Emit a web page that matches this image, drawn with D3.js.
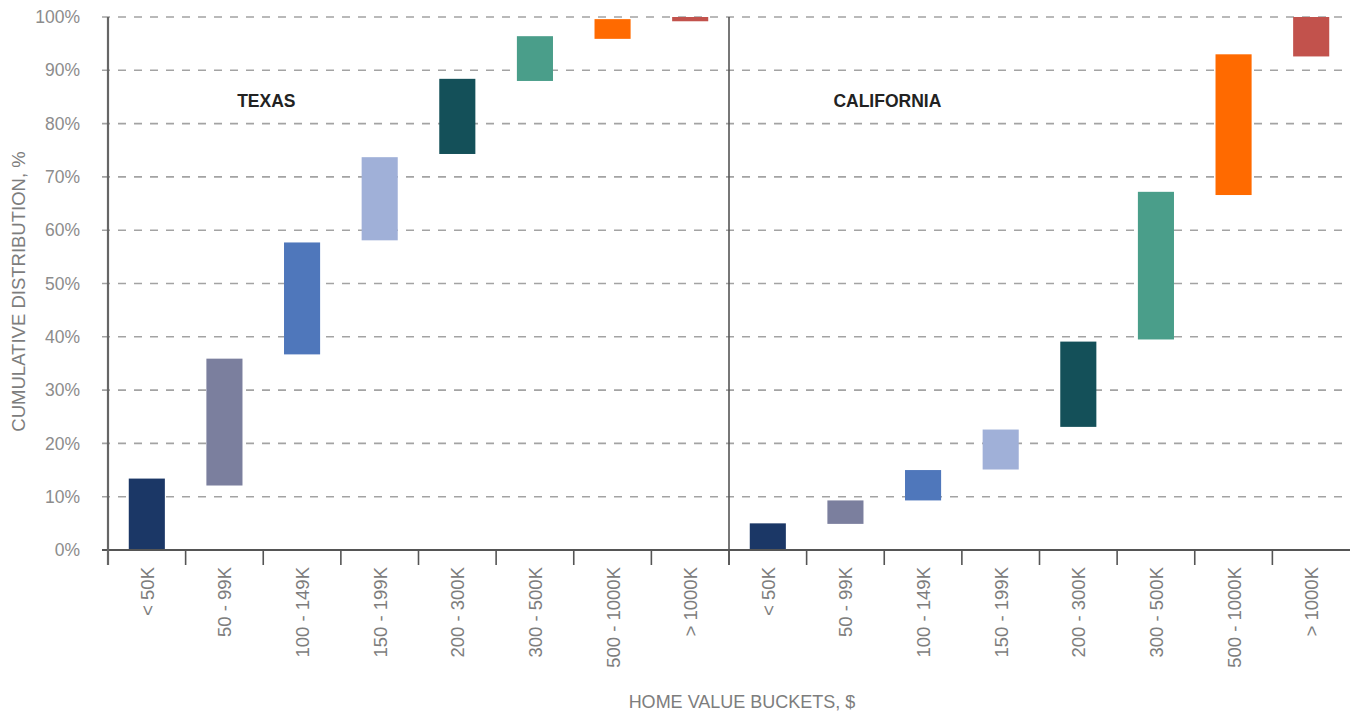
<!DOCTYPE html>
<html>
<head>
<meta charset="utf-8">
<script src="https://cdn.jsdelivr.net/npm/d3@7"></script>
<style>
  html, body { margin: 0; padding: 0; background: #fff; }
  svg { display: block; font-family: "Liberation Sans", Arial, Helvetica, sans-serif; }
</style>
</head>
<body>
<svg id="chart" width="1350" height="713"></svg>
<script>
(function () {
// ---- data ----
const buckets = ["< 50K", "50 - 99K", "100 - 149K", "150 - 199K", "200 - 300K", "300 - 500K", "500 - 1000K", "> 1000K"];
const states = ["TEXAS", "CALIFORNIA"];
const texasLow  = [0,    12.1, 36.7, 58.1, 74.3, 88.0, 95.9, 99.2];
const texasHigh = [13.4, 35.9, 57.7, 73.7, 88.4, 96.4, 99.6, 100];
const caLow     = [0,    4.9,  9.3,  15.1, 23.1, 39.5, 66.6, 92.6];
const caHigh    = [5.0,  9.3,  15.0, 22.6, 39.1, 67.2, 93.0, 100];
const yTicks = [0, 10, 20, 30, 40, 50, 60, 70, 80, 90, 100];
const bucketColors = ["#1b3766", "#7b7f9e", "#4f77bb", "#a0b0d8", "#145059", "#4a9e8a", "#ff6a00", "#c2524c"];

const rows = [];
states.forEach((s, si) => {
  const lo = si === 0 ? texasLow : caLow;
  const hi = si === 0 ? texasHigh : caHigh;
  buckets.forEach((b, bi) => rows.push({ key: s + "|" + b, state: s, bucket: b, bi, lo: lo[bi], hi: hi[bi] }));
});

// ---- layout ----
const svg = d3.select("#chart");
const mLeft = 108, mRight = 1350, mTop = 17, mBottom = 550;

const x = d3.scaleBand().domain(rows.map(d => d.key)).range([mLeft, mRight]).paddingInner(0).paddingOuter(0);
const y = d3.scaleLinear().domain([0, 100]).range([mBottom, mTop]);
const barW = x.bandwidth() * 0.465;

// gridlines
svg.append("g").selectAll("line").data(yTicks.filter(t => t > 0)).join("line")
  .attr("x1", mLeft - 6).attr("x2", mRight)
  .attr("y1", d => y(d)).attr("y2", d => y(d))
  .attr("stroke", "#a3a3a3").attr("stroke-width", 1.6)
  .attr("stroke-dasharray", "8,8");

// y tick labels
svg.append("g").selectAll("text").data(yTicks).join("text")
  .attr("x", 80).attr("y", d => y(d)).attr("dy", "0.35em")
  .attr("text-anchor", "end").attr("font-size", 17.5).attr("fill", "#8c8c8c")
  .text(d => d + "%");

// bars
svg.append("g").selectAll("rect").data(rows).join("rect")
  .attr("x", d => x(d.key) + (x.bandwidth() - barW) / 2)
  .attr("width", barW)
  .attr("y", d => y(d.hi))
  .attr("height", d => y(d.lo) - y(d.hi))
  .attr("fill", d => bucketColors[d.bi]);

// x axis line
svg.append("line").attr("x1", mLeft - 6).attr("x2", mRight).attr("y1", y(0)).attr("y2", y(0))
  .attr("stroke", "#555").attr("stroke-width", 2);

// tick marks at band boundaries
const bounds = rows.map(d => x(d.key));
svg.append("g").selectAll("line").data(bounds).join("line")
  .attr("x1", d => d).attr("x2", d => d)
  .attr("y1", y(0)).attr("y2", y(0) + 15)
  .attr("stroke", "#555").attr("stroke-width", 1.6);

// y axis line
svg.append("line").attr("x1", mLeft).attr("x2", mLeft).attr("y1", mTop).attr("y2", y(0) + 15)
  .attr("stroke", "#666").attr("stroke-width", 2.2);

// divider between states
const divX = x(states[1] + "|" + buckets[0]);
svg.append("line").attr("x1", divX).attr("x2", divX).attr("y1", mTop).attr("y2", y(0) + 15)
  .attr("stroke", "#555").attr("stroke-width", 1.6);

// x tick labels (rotated)
svg.append("g").selectAll("text").data(rows).join("text")
  .attr("transform", d => `translate(${x(d.key) + x.bandwidth() / 2 + 7},${y(0) + 17}) rotate(-90)`)
  .attr("text-anchor", "end").attr("font-size", 18.5).attr("fill", "#7d7d7d")
  .text(d => d.bucket);

// state titles
svg.append("g").selectAll("text").data(states).join("text")
  .attr("x", (d, i) => x(d + "|" + buckets[1]) + x.bandwidth() * 1.04)
  .attr("y", 107)
  .attr("text-anchor", "middle").attr("font-size", 17.5).attr("font-weight", "bold").attr("fill", "#222")
  .text(d => d);

// axis titles
svg.append("text")
  .attr("transform", `translate(25,${(mTop + y(0)) / 2 + 8}) rotate(-90)`)
  .attr("text-anchor", "middle").attr("font-size", 18.5).attr("fill", "#7d7d7d")
  .text("CUMULATIVE DISTRIBUTION, %");

svg.append("text")
  .attr("x", 742).attr("y", 708)
  .attr("text-anchor", "middle").attr("font-size", 18).attr("fill", "#7d7d7d")
  .text("HOME VALUE BUCKETS, $");
})();
</script>
</body>
</html>
